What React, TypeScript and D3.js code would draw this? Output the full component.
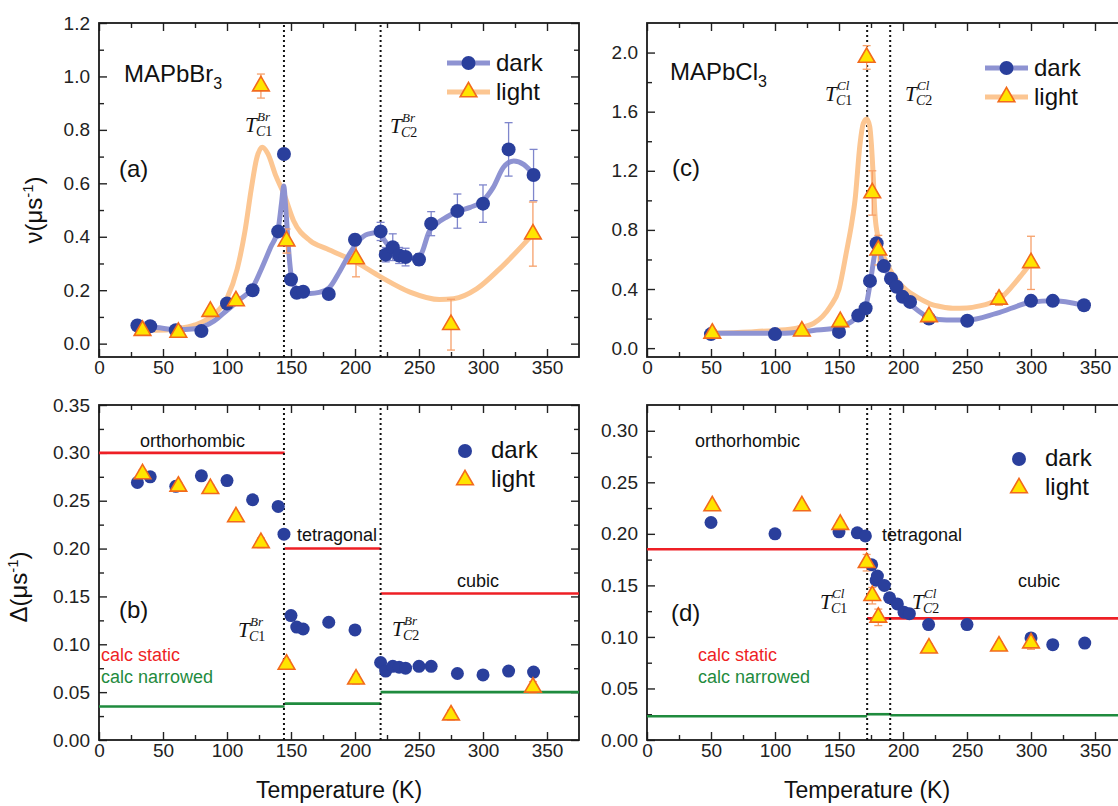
import { useEffect, useRef } from 'react';
import * as d3 from 'd3';

// ---------- MAPbBr3 ----------
const brDarkT = [30, 40, 60, 80, 100, 120, 140, 144.5, 150, 154.5, 159.5, 179.5, 200, 220, 224, 229.5, 234.5, 239.5, 250, 259.5, 280, 300, 320, 339.5];
const brDarkNu = [0.068, 0.065, 0.05, 0.047, 0.15, 0.2, 0.42, 0.71, 0.24, 0.19, 0.194, 0.186, 0.389, 0.42, 0.333, 0.361, 0.33, 0.324, 0.315, 0.449, 0.496, 0.524, 0.727, 0.631];
const brDarkNuErr = [0.01, 0.01, 0.01, 0.01, 0.012, 0.012, 0.015, 0.015, 0.015, 0.012, 0.012, 0.012, 0.02, 0.034, 0.027, 0.05, 0.03, 0.033, 0.022, 0.045, 0.064, 0.07, 0.1, 0.096];
const brDarkDelta = [0.269, 0.275, 0.265, 0.276, 0.271, 0.251, 0.244, 0.215, 0.13, 0.118, 0.116, 0.123, 0.115, 0.081, 0.072, 0.077, 0.076, 0.075, 0.077, 0.077, 0.0695, 0.068, 0.072, 0.071];

const brLightT = [34, 62, 87, 107, 126.5, 146.5, 200.8, 275, 339];
const brLightNu = [0.049, 0.042, 0.12, 0.16, 0.964, 0.384, 0.317, 0.071, 0.41];
const brLightNuErr = [0.01, 0.01, 0.012, 0.012, 0.045, 0.045, 0.067, 0.095, 0.12];
const brLightDelta = [0.278, 0.265, 0.2625, 0.233, 0.206, 0.079, 0.0635, 0.026, 0.055];
const brLightDeltaErr = [0.004, 0.004, 0.004, 0.004, 0.005, 0.005, 0.005, 0.005, 0.006];

const brDarkFitT = [30, 45, 60, 75, 90, 100, 110, 120, 126, 134, 140, 142.7, 144.3, 146, 148, 150, 153, 158, 165, 172, 180, 188, 195, 202, 210, 218, 224, 230, 238, 246, 251, 258, 264, 272, 280, 290, 300, 308, 316, 324, 332, 340];
const brDarkFitNu = [0.065, 0.06, 0.052, 0.056, 0.085, 0.125, 0.165, 0.21, 0.27, 0.36, 0.43, 0.53, 0.59, 0.5, 0.36, 0.26, 0.21, 0.19, 0.188, 0.192, 0.21, 0.27, 0.33, 0.38, 0.41, 0.415, 0.38, 0.345, 0.33, 0.32, 0.33, 0.42, 0.45, 0.475, 0.495, 0.51, 0.535, 0.585, 0.66, 0.684, 0.67, 0.63];
const brLightFitT = [30, 45, 60, 75, 90, 100, 108, 114, 119, 123, 127.5, 132, 138, 144.5, 152, 165, 178, 200, 220, 243, 266, 277, 295, 313, 339];
const brLightFitNu = [0.05, 0.05, 0.055, 0.07, 0.11, 0.17, 0.28, 0.42, 0.58, 0.69, 0.735, 0.71, 0.63, 0.56, 0.46, 0.385, 0.355, 0.307, 0.25, 0.193, 0.165, 0.168, 0.205, 0.28, 0.41];

const brTc = [144.5, 220];
const brStaticFrom = [0, 145, 220];
const brStaticTo = [145, 220, 375];
const brStatic = [0.3, 0.2, 0.153];
const brNarrowed = [0.035, 0.038, 0.05];

// ---------- MAPbCl3 ----------
const clDarkT = [50, 100, 150, 165, 170.8, 174.2, 179.4, 185, 190.6, 195, 199.7, 205.5, 220.3, 250.2, 300, 317, 341.4];
const clDarkNu = [0.095, 0.095, 0.11, 0.22, 0.27, 0.455, 0.71, 0.555, 0.47, 0.415, 0.347, 0.313, 0.2, 0.185, 0.32, 0.32, 0.29];

const clLightT = [51, 121, 151, 171.6, 176, 180.7, 220.3, 275, 300];
const clLightNu = [0.1, 0.115, 0.178, 1.967, 1.05, 0.663, 0.212, 0.33, 0.577];
const clLightNuErr = [0.01, 0.01, 0.02, 0.08, 0.15, 0.1, 0.02, 0.04, 0.18];
const clLightDelta = [0.227, 0.227, 0.209, 0.172, 0.14, 0.119, 0.089, 0.091, 0.094];
const clLightDeltaErr = [0.003, 0.003, 0.004, 0.008, 0.008, 0.008, 0.004, 0.004, 0.006];

const clDarkDT = [50, 100, 150, 164.3, 170.6, 175.5, 179, 180, 185.4, 189.5, 195.6, 200.8, 205, 220, 250, 300, 317, 342];
const clDarkDelta = [0.211, 0.2, 0.202, 0.201, 0.198, 0.17, 0.155, 0.159, 0.15, 0.138, 0.132, 0.124, 0.1226, 0.112, 0.112, 0.099, 0.0925, 0.094];

const clDarkFitT = [50, 75, 104, 130, 150, 160, 165, 170.8, 174.2, 178, 179.5, 183.3, 190.6, 199.7, 208, 220, 234, 250, 273, 300, 317, 341];
const clDarkFitNu = [0.1, 0.1, 0.1, 0.12, 0.14, 0.18, 0.22, 0.28, 0.43, 0.64, 0.69, 0.6, 0.455, 0.347, 0.28, 0.21, 0.19, 0.19, 0.235, 0.31, 0.32, 0.29];
const clLightFitT = [50, 80, 100, 117, 130, 143, 150, 156, 160, 162.5, 166.4, 169, 171.6, 174, 175.3, 176.8, 178, 180, 182, 186, 190, 196, 203, 212, 221, 230, 239, 250, 260, 268, 275, 286, 293, 300];
const clLightFitNu = [0.1, 0.11, 0.12, 0.135, 0.167, 0.28, 0.4, 0.66, 0.85, 1.0, 1.38, 1.52, 1.55, 1.5, 1.38, 1.15, 0.92, 0.77, 0.685, 0.6, 0.528, 0.45, 0.39, 0.34, 0.3, 0.28, 0.27, 0.272, 0.286, 0.305, 0.33, 0.426, 0.5, 0.577];

const clTc = [172, 190];
const clStaticFrom = [0, 172];
const clStaticTo = [172, 375];
const clStatic = [0.185, 0.118];
const clNarrowedFrom = [0, 172, 190];
const clNarrowedTo = [172, 190, 375];
const clNarrowed = [0.023, 0.025, 0.024];

const xTicks = [0, 50, 100, 150, 200, 250, 300, 350];

const SANS = '"Liberation Sans", Arial, Helvetica, sans-serif';
const SERIF = '"Liberation Serif", "Times New Roman", serif';
const DARK = '#2a3f9c';
const DARK_FIT = '#8e93d2';
const DARK_ERR = '#7f86cc';
const LIGHT_FIT = '#fcc692';
const LIGHT_FILL = '#ffe400';
const LIGHT_STROKE = '#f26a1c';
const LIGHT_ERR = '#f6a06a';
const RED = '#ee1f25';
const GREEN = '#1f8b3e';

type Pt = { t: number; v: number; e: number };
const pts = (t: number[], v: number[], e?: number[]): Pt[] => t.map((tt, i) => ({ t: tt, v: v[i], e: e ? e[i] : 0 }));

type Sel = d3.Selection<SVGGElement, unknown, null, undefined>;

interface PanelCfg {
  left: number; right: number; top: number; bottom: number;
  yDomain: [number, number];
  yMajor: number[]; yMinor: number[]; yFmt: string;
}

function drawPanel(root: Sel, p: PanelCfg) {
  const x = d3.scaleLinear().domain([0, 375]).range([p.left, p.right]);
  const y = d3.scaleLinear().domain(p.yDomain).range([p.bottom, p.top]);
  const g = root.append('g');
  const xMinor = d3.range(25, 375, 50);

  const styleAxis = (a: Sel) => {
    a.select('.domain').remove();
    a.attr('font-size', 19).attr('font-family', SANS).attr('color', '#222');
    a.selectAll('line').attr('stroke-width', 1.4);
  };

  // ticks point inward on all four sides, labels only left and bottom
  styleAxis(g.append('g').attr('transform', `translate(0,${p.bottom})`)
    .call(d3.axisBottom(x).tickValues(xTicks).tickSize(-8).tickPadding(4).tickFormat(d3.format('d')) as any));
  styleAxis(g.append('g').attr('transform', `translate(0,${p.bottom})`)
    .call(d3.axisBottom(x).tickValues(xMinor).tickSize(-5).tickFormat(() => '') as any));
  styleAxis(g.append('g').attr('transform', `translate(0,${p.top})`)
    .call(d3.axisTop(x).tickValues(xTicks).tickSize(-8).tickFormat(() => '') as any));
  styleAxis(g.append('g').attr('transform', `translate(0,${p.top})`)
    .call(d3.axisTop(x).tickValues(xMinor).tickSize(-5).tickFormat(() => '') as any));

  styleAxis(g.append('g').attr('transform', `translate(${p.left},0)`)
    .call(d3.axisLeft(y).tickValues(p.yMajor).tickSize(-8).tickPadding(9).tickFormat(d3.format(p.yFmt)) as any));
  styleAxis(g.append('g').attr('transform', `translate(${p.left},0)`)
    .call(d3.axisLeft(y).tickValues(p.yMinor).tickSize(-5).tickFormat(() => '') as any));
  styleAxis(g.append('g').attr('transform', `translate(${p.right},0)`)
    .call(d3.axisRight(y).tickValues(p.yMajor).tickSize(-8).tickFormat(() => '') as any));
  styleAxis(g.append('g').attr('transform', `translate(${p.right},0)`)
    .call(d3.axisRight(y).tickValues(p.yMinor).tickSize(-5).tickFormat(() => '') as any));

  g.append('rect')
    .attr('x', p.left).attr('y', p.top)
    .attr('width', p.right - p.left).attr('height', p.bottom - p.top)
    .attr('fill', 'none').attr('stroke', '#1a1a1a').attr('stroke-width', 1.8);

  const marks = g.append('g');
  return { x, y, g: marks };
}

function tcLines(g: Sel, x: d3.ScaleLinear<number, number>, y: d3.ScaleLinear<number, number>, tcs: number[]) {
  const [y0, y1] = y.domain();
  g.selectAll(null).data(tcs).join('line')
    .attr('x1', (d) => x(d)).attr('x2', (d) => x(d))
    .attr('y1', y(y0)).attr('y2', y(y1))
    .attr('stroke', '#111').attr('stroke-width', 2).attr('stroke-dasharray', '2,3');
}

function fitLine(g: Sel, x: any, y: any, t: number[], v: number[], color: string) {
  const line = d3.line<number>()
    .x((d) => x(d))
    .y((_, i) => y(v[i]))
    .curve(d3.curveMonotoneX);
  g.append('path').datum(t)
    .attr('fill', 'none').attr('stroke', color).attr('stroke-width', 5)
    .attr('stroke-linecap', 'round').attr('stroke-linejoin', 'round')
    .attr('d', line);
}

function errBars(g: Sel, x: any, y: any, data: Pt[], color: string) {
  const eb = g.append('g').attr('stroke', color).attr('stroke-width', 1.3).attr('fill', 'none');
  data.filter((d) => d.e > 0).forEach((d) => {
    const cx = x(d.t);
    eb.append('line').attr('x1', cx).attr('x2', cx).attr('y1', y(d.v - d.e)).attr('y2', y(d.v + d.e));
    eb.append('line').attr('x1', cx - 4).attr('x2', cx + 4).attr('y1', y(d.v - d.e)).attr('y2', y(d.v - d.e));
    eb.append('line').attr('x1', cx - 4).attr('x2', cx + 4).attr('y1', y(d.v + d.e)).attr('y2', y(d.v + d.e));
  });
}

const triPath = d3.symbol(d3.symbolTriangle, 120)();

function circles(g: Sel, x: any, y: any, data: Pt[], r = 7) {
  g.append('g').selectAll('circle').data(data).join('circle')
    .attr('cx', (d) => x(d.t)).attr('cy', (d) => y(d.v)).attr('r', r).attr('fill', DARK);
}

function triangles(g: Sel, x: any, y: any, data: Pt[]) {
  g.append('g').selectAll('path').data(data).join('path')
    .attr('d', triPath)
    .attr('transform', (d) => `translate(${x(d.t)},${y(d.v)})`)
    .attr('fill', LIGHT_FILL).attr('stroke', LIGHT_STROKE).attr('stroke-width', 1.6);
}

function steps(g: Sel, x: any, y: any, from: number[], to: number[], vals: number[], color: string) {
  g.append('g').selectAll('line').data(vals).join('line')
    .attr('x1', (_, i) => x(from[i])).attr('x2', (_, i) => x(to[i]))
    .attr('y1', (d) => y(d)).attr('y2', (d) => y(d))
    .attr('stroke', color).attr('stroke-width', 2.6);
}

function text(g: Sel, px: number, py: number, s: string, size: number, color = '#111', family = SANS) {
  return g.append('text').attr('x', px).attr('y', py).attr('font-size', size)
    .attr('font-family', family).attr('fill', color).text(s);
}

function tLabel(g: Sel, px: number, py: number, sup: string, sub: string) {
  const t = g.append('g').attr('font-family', SERIF).attr('fill', '#111');
  t.append('text').attr('x', px).attr('y', py).attr('font-size', 21).attr('font-style', 'italic').text('T');
  t.append('text').attr('x', px + 12).attr('y', py - 11).attr('font-size', 13).attr('font-style', 'italic').text(sup);
  const s = t.append('text').attr('x', px + 11).attr('y', py + 4).attr('font-size', 14);
  s.append('tspan').attr('font-style', 'italic').text('C');
  s.append('tspan').text(sub);
}

function formula(g: Sel, px: number, py: number, base: string) {
  const t = g.append('text').attr('x', px).attr('y', py).attr('font-size', 24)
    .attr('font-family', SANS).attr('fill', '#111');
  t.append('tspan').text(base);
  t.append('tspan').attr('font-size', 16).attr('dy', 7).text('3');
}

function lineLegend(g: Sel, px: number, py: number) {
  const l = g.append('g');
  l.append('line').attr('x1', px).attr('x2', px + 43).attr('y1', py).attr('y2', py)
    .attr('stroke', DARK_FIT).attr('stroke-width', 5);
  l.append('circle').attr('cx', px + 21.5).attr('cy', py).attr('r', 7).attr('fill', DARK);
  text(l, px + 49, py + 8, 'dark', 24);
  l.append('line').attr('x1', px).attr('x2', px + 43).attr('y1', py + 29).attr('y2', py + 29)
    .attr('stroke', LIGHT_FIT).attr('stroke-width', 5);
  l.append('path').attr('d', triPath).attr('transform', `translate(${px + 21.5},${py + 29})`)
    .attr('fill', LIGHT_FILL).attr('stroke', LIGHT_STROKE).attr('stroke-width', 1.6);
  text(l, px + 49, py + 37, 'light', 24);
}

function markerLegend(g: Sel, px: number, py: number) {
  const l = g.append('g');
  l.append('circle').attr('cx', px).attr('cy', py).attr('r', 7).attr('fill', DARK);
  text(l, px + 26, py + 7, 'dark', 24);
  l.append('path').attr('d', triPath).attr('transform', `translate(${px},${py + 29})`)
    .attr('fill', LIGHT_FILL).attr('stroke', LIGHT_STROKE).attr('stroke-width', 1.6);
  text(l, px + 26, py + 36, 'light', 24);
}

function yTitle(g: Sel, cx: number, cy: number, sym: string) {
  const t = g.append('text').attr('transform', `translate(${cx},${cy}) rotate(-90)`)
    .attr('text-anchor', 'middle').attr('font-size', 24).attr('font-family', SANS).attr('fill', '#111');
  t.append('tspan').text(`${sym}(μs`);
  t.append('tspan').attr('font-size', 15).attr('dy', -9).text('-1');
  t.append('tspan').attr('dy', 9).text(')');
}

export default function App() {
  const svgRef = useRef<SVGSVGElement>(null);

  useEffect(() => {
    if (!svgRef.current) return;
    const svg = d3.select(svgRef.current);
    svg.selectAll('*').remove();
    const root = svg.append('g') as unknown as Sel;

    // (a) MAPbBr3 nu
    {
      const { x, y, g } = drawPanel(root, {
        left: 99, right: 579, top: 23, bottom: 357, yDomain: [-0.05, 1.2],
        yMajor: d3.range(0, 1.21, 0.2), yMinor: d3.range(0.1, 1.2, 0.2), yFmt: '.1f',
      });
      tcLines(g, x, y, brTc);
      fitLine(g, x, y, brLightFitT, brLightFitNu, LIGHT_FIT);
      fitLine(g, x, y, brDarkFitT, brDarkFitNu, DARK_FIT);
      const dark = pts(brDarkT, brDarkNu, brDarkNuErr);
      const light = pts(brLightT, brLightNu, brLightNuErr);
      errBars(g, x, y, dark, DARK_ERR);
      errBars(g, x, y, light, LIGHT_ERR);
      circles(g, x, y, dark);
      triangles(g, x, y, light);
      formula(g, 124, 82, 'MAPbBr');
      text(g, 119, 177, '(a)', 24);
      tLabel(g, 245, 132, 'Br', '1');
      tLabel(g, 390, 133, 'Br', '2');
      lineLegend(g, 447, 63);
    }

    // (b) MAPbBr3 Delta
    {
      const { x, y, g } = drawPanel(root, {
        left: 99, right: 579, top: 405, bottom: 740, yDomain: [0, 0.35],
        yMajor: d3.range(0, 0.351, 0.05), yMinor: d3.range(0.025, 0.35, 0.05), yFmt: '.2f',
      });
      steps(g, x, y, brStaticFrom, brStaticTo, brStatic, RED);
      steps(g, x, y, brStaticFrom, brStaticTo, brNarrowed, GREEN);
      tcLines(g, x, y, brTc);
      const light = pts(brLightT, brLightDelta, brLightDeltaErr);
      errBars(g, x, y, light, LIGHT_ERR);
      circles(g, x, y, pts(brDarkT, brDarkDelta), 6.5);
      triangles(g, x, y, light);
      text(g, 140, 447, 'orthorhombic', 18);
      text(g, 297, 541, 'tetragonal', 18);
      text(g, 457, 587, 'cubic', 18);
      text(g, 119, 618, '(b)', 24);
      text(g, 101, 661, 'calc static', 18, RED);
      text(g, 101, 683, 'calc narrowed', 18, GREEN);
      tLabel(g, 238, 637, 'Br', '1');
      tLabel(g, 392, 636, 'Br', '2');
      markerLegend(g, 465, 451);
    }

    // (c) MAPbCl3 nu
    {
      const { x, y, g } = drawPanel(root, {
        left: 647, right: 1127, top: 23, bottom: 357, yDomain: [-0.06, 2.2],
        yMajor: d3.range(0, 2.01, 0.4), yMinor: d3.range(0.2, 2.2, 0.4), yFmt: '.1f',
      });
      tcLines(g, x, y, clTc);
      fitLine(g, x, y, clLightFitT, clLightFitNu, LIGHT_FIT);
      fitLine(g, x, y, clDarkFitT, clDarkFitNu, DARK_FIT);
      const light = pts(clLightT, clLightNu, clLightNuErr);
      errBars(g, x, y, light, LIGHT_ERR);
      circles(g, x, y, pts(clDarkT, clDarkNu));
      triangles(g, x, y, light);
      formula(g, 670, 80, 'MAPbCl');
      text(g, 672, 176, '(c)', 24);
      tLabel(g, 825, 101, 'Cl', '1');
      tLabel(g, 905, 101, 'Cl', '2');
      lineLegend(g, 985, 68);
    }

    // (d) MAPbCl3 Delta
    {
      const { x, y, g } = drawPanel(root, {
        left: 647, right: 1127, top: 405, bottom: 740, yDomain: [0, 0.325],
        yMajor: d3.range(0, 0.301, 0.05), yMinor: d3.range(0.025, 0.325, 0.05), yFmt: '.2f',
      });
      steps(g, x, y, clStaticFrom, clStaticTo, clStatic, RED);
      steps(g, x, y, clNarrowedFrom, clNarrowedTo, clNarrowed, GREEN);
      tcLines(g, x, y, clTc);
      const light = pts(clLightT, clLightDelta, clLightDeltaErr);
      errBars(g, x, y, light, LIGHT_ERR);
      circles(g, x, y, pts(clDarkDT, clDarkDelta), 6.5);
      triangles(g, x, y, light);
      text(g, 695, 447, 'orthorhombic', 18);
      text(g, 882, 541, 'tetragonal', 18);
      text(g, 1018, 587, 'cubic', 18);
      text(g, 671, 621, '(d)', 24);
      text(g, 698, 661, 'calc static', 18, RED);
      text(g, 698, 683, 'calc narrowed', 18, GREEN);
      tLabel(g, 820, 609, 'Cl', '1');
      tLabel(g, 912, 609, 'Cl', '2');
      markerLegend(g, 1019, 459);
    }

    yTitle(root, 42, 210, 'ν');
    yTitle(root, 27, 587, 'Δ');
    text(root, 339, 798, 'Temperature (K)', 23).attr('text-anchor', 'middle');
    text(root, 867, 798, 'Temperature (K)', 23).attr('text-anchor', 'middle');
  }, []);

  return (
    <div style={{ position: 'absolute', left: 0, top: 0, width: 1118, height: 806, background: '#fff' }}>
      <svg ref={svgRef} width={1118} height={806} style={{ display: 'block' }} />
    </div>
  );
}
